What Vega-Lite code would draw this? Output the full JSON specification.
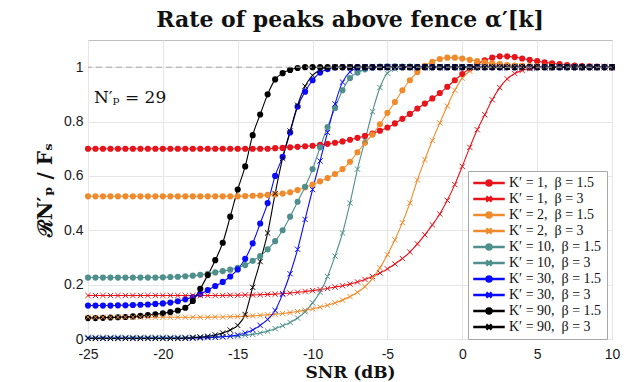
{
"$schema": "https://vega.github.io/schema/vega-lite/v6.json",
"width": 524, "height": 299,
"autosize": "none",
"padding": {"left": 88, "top": 40, "right": 18, "bottom": 43},
"background": "white",
"title": {"text": "Rate of peaks above fence α′[k]", "font": "DejaVu Serif", "fontSize": 22, "fontWeight": "bold", "color": "#111", "offset": 8},
"config": {"view": {"stroke": "#bfbfbf", "strokeWidth": 1}},
"datasets": {"d": [
{"s":"a","x":-25,"y":0.7},{"s":"a","x":-24.5,"y":0.7},{"s":"a","x":-24,"y":0.7},{"s":"a","x":-23.5,"y":0.7},{"s":"a","x":-23,"y":0.7},{"s":"a","x":-22.5,"y":0.7},{"s":"a","x":-22,"y":0.7},{"s":"a","x":-21.5,"y":0.7},{"s":"a","x":-21,"y":0.7},{"s":"a","x":-20.5,"y":0.7},{"s":"a","x":-20,"y":0.7},{"s":"a","x":-19.5,"y":0.7},{"s":"a","x":-19,"y":0.7},{"s":"a","x":-18.5,"y":0.7},{"s":"a","x":-18,"y":0.7},{"s":"a","x":-17.5,"y":0.7},{"s":"a","x":-17,"y":0.7},{"s":"a","x":-16.5,"y":0.7},{"s":"a","x":-16,"y":0.7},{"s":"a","x":-15.5,"y":0.7},{"s":"a","x":-15,"y":0.7},{"s":"a","x":-14.5,"y":0.7},{"s":"a","x":-14,"y":0.7},{"s":"a","x":-13.5,"y":0.7},{"s":"a","x":-13,"y":0.7},{"s":"a","x":-12.5,"y":0.702},{"s":"a","x":-12,"y":0.703},{"s":"a","x":-11.5,"y":0.705},{"s":"a","x":-11,"y":0.707},{"s":"a","x":-10.5,"y":0.709},{"s":"a","x":-10,"y":0.711},{"s":"a","x":-9.5,"y":0.714},{"s":"a","x":-9,"y":0.718},{"s":"a","x":-8.5,"y":0.722},{"s":"a","x":-8,"y":0.727},{"s":"a","x":-7.5,"y":0.733},{"s":"a","x":-7,"y":0.74},{"s":"a","x":-6.5,"y":0.747},{"s":"a","x":-6,"y":0.756},{"s":"a","x":-5.5,"y":0.766},{"s":"a","x":-5,"y":0.778},{"s":"a","x":-4.5,"y":0.793},{"s":"a","x":-4,"y":0.81},{"s":"a","x":-3.5,"y":0.828},{"s":"a","x":-3,"y":0.848},{"s":"a","x":-2.5,"y":0.866},{"s":"a","x":-2,"y":0.885},{"s":"a","x":-1.5,"y":0.905},{"s":"a","x":-1,"y":0.928},{"s":"a","x":-0.5,"y":0.952},{"s":"a","x":0,"y":0.975},{"s":"a","x":0.5,"y":0.995},{"s":"a","x":1,"y":1.012},{"s":"a","x":1.5,"y":1.025},{"s":"a","x":2,"y":1.035},{"s":"a","x":2.5,"y":1.04},{"s":"a","x":3,"y":1.04},{"s":"a","x":3.5,"y":1.037},{"s":"a","x":4,"y":1.032},{"s":"a","x":4.5,"y":1.027},{"s":"a","x":5,"y":1.022},{"s":"a","x":5.5,"y":1.018},{"s":"a","x":6,"y":1.014},{"s":"a","x":6.5,"y":1.011},{"s":"a","x":7,"y":1.008},{"s":"a","x":7.5,"y":1.006},{"s":"a","x":8,"y":1.004},{"s":"a","x":8.5,"y":1.003},{"s":"a","x":9,"y":1.002},{"s":"a","x":9.5,"y":1.001},{"s":"a","x":10,"y":1.0},
{"s":"b","x":-25,"y":0.16},{"s":"b","x":-24.5,"y":0.16},{"s":"b","x":-24,"y":0.16},{"s":"b","x":-23.5,"y":0.16},{"s":"b","x":-23,"y":0.16},{"s":"b","x":-22.5,"y":0.16},{"s":"b","x":-22,"y":0.16},{"s":"b","x":-21.5,"y":0.16},{"s":"b","x":-21,"y":0.16},{"s":"b","x":-20.5,"y":0.16},{"s":"b","x":-20,"y":0.16},{"s":"b","x":-19.5,"y":0.16},{"s":"b","x":-19,"y":0.16},{"s":"b","x":-18.5,"y":0.16},{"s":"b","x":-18,"y":0.16},{"s":"b","x":-17.5,"y":0.16},{"s":"b","x":-17,"y":0.16},{"s":"b","x":-16.5,"y":0.16},{"s":"b","x":-16,"y":0.16},{"s":"b","x":-15.5,"y":0.161},{"s":"b","x":-15,"y":0.161},{"s":"b","x":-14.5,"y":0.162},{"s":"b","x":-14,"y":0.162},{"s":"b","x":-13.5,"y":0.163},{"s":"b","x":-13,"y":0.164},{"s":"b","x":-12.5,"y":0.165},{"s":"b","x":-12,"y":0.167},{"s":"b","x":-11.5,"y":0.169},{"s":"b","x":-11,"y":0.172},{"s":"b","x":-10.5,"y":0.175},{"s":"b","x":-10,"y":0.178},{"s":"b","x":-9.5,"y":0.182},{"s":"b","x":-9,"y":0.186},{"s":"b","x":-8.5,"y":0.191},{"s":"b","x":-8,"y":0.196},{"s":"b","x":-7.5,"y":0.202},{"s":"b","x":-7,"y":0.21},{"s":"b","x":-6.5,"y":0.219},{"s":"b","x":-6,"y":0.23},{"s":"b","x":-5.5,"y":0.243},{"s":"b","x":-5,"y":0.258},{"s":"b","x":-4.5,"y":0.276},{"s":"b","x":-4,"y":0.296},{"s":"b","x":-3.5,"y":0.32},{"s":"b","x":-3,"y":0.35},{"s":"b","x":-2.5,"y":0.383},{"s":"b","x":-2,"y":0.42},{"s":"b","x":-1.5,"y":0.46},{"s":"b","x":-1,"y":0.51},{"s":"b","x":-0.5,"y":0.568},{"s":"b","x":0,"y":0.635},{"s":"b","x":0.5,"y":0.705},{"s":"b","x":1,"y":0.77},{"s":"b","x":1.5,"y":0.825},{"s":"b","x":2,"y":0.88},{"s":"b","x":2.5,"y":0.925},{"s":"b","x":3,"y":0.957},{"s":"b","x":3.5,"y":0.977},{"s":"b","x":4,"y":0.988},{"s":"b","x":4.5,"y":0.995},{"s":"b","x":5,"y":0.999},{"s":"b","x":5.5,"y":1.0},{"s":"b","x":6,"y":1.0},{"s":"b","x":6.5,"y":1.0},{"s":"b","x":7,"y":1.0},{"s":"b","x":7.5,"y":1.0},{"s":"b","x":8,"y":1.0},{"s":"b","x":8.5,"y":1.0},{"s":"b","x":9,"y":1.0},{"s":"b","x":9.5,"y":1.0},{"s":"b","x":10,"y":1.0},
{"s":"c","x":-25,"y":0.525},{"s":"c","x":-24.5,"y":0.525},{"s":"c","x":-24,"y":0.525},{"s":"c","x":-23.5,"y":0.525},{"s":"c","x":-23,"y":0.525},{"s":"c","x":-22.5,"y":0.525},{"s":"c","x":-22,"y":0.525},{"s":"c","x":-21.5,"y":0.525},{"s":"c","x":-21,"y":0.525},{"s":"c","x":-20.5,"y":0.525},{"s":"c","x":-20,"y":0.525},{"s":"c","x":-19.5,"y":0.525},{"s":"c","x":-19,"y":0.525},{"s":"c","x":-18.5,"y":0.525},{"s":"c","x":-18,"y":0.525},{"s":"c","x":-17.5,"y":0.525},{"s":"c","x":-17,"y":0.525},{"s":"c","x":-16.5,"y":0.525},{"s":"c","x":-16,"y":0.525},{"s":"c","x":-15.5,"y":0.525},{"s":"c","x":-15,"y":0.525},{"s":"c","x":-14.5,"y":0.526},{"s":"c","x":-14,"y":0.527},{"s":"c","x":-13.5,"y":0.528},{"s":"c","x":-13,"y":0.53},{"s":"c","x":-12.5,"y":0.532},{"s":"c","x":-12,"y":0.535},{"s":"c","x":-11.5,"y":0.54},{"s":"c","x":-11,"y":0.548},{"s":"c","x":-10.5,"y":0.558},{"s":"c","x":-10,"y":0.568},{"s":"c","x":-9.5,"y":0.58},{"s":"c","x":-9,"y":0.592},{"s":"c","x":-8.5,"y":0.607},{"s":"c","x":-8,"y":0.625},{"s":"c","x":-7.5,"y":0.652},{"s":"c","x":-7,"y":0.687},{"s":"c","x":-6.5,"y":0.722},{"s":"c","x":-6,"y":0.752},{"s":"c","x":-5.5,"y":0.79},{"s":"c","x":-5,"y":0.832},{"s":"c","x":-4.5,"y":0.872},{"s":"c","x":-4,"y":0.915},{"s":"c","x":-3.5,"y":0.952},{"s":"c","x":-3,"y":0.982},{"s":"c","x":-2.5,"y":1.005},{"s":"c","x":-2,"y":1.02},{"s":"c","x":-1.5,"y":1.03},{"s":"c","x":-1,"y":1.035},{"s":"c","x":-0.5,"y":1.035},{"s":"c","x":0,"y":1.032},{"s":"c","x":0.5,"y":1.027},{"s":"c","x":1,"y":1.022},{"s":"c","x":1.5,"y":1.018},{"s":"c","x":2,"y":1.014},{"s":"c","x":2.5,"y":1.011},{"s":"c","x":3,"y":1.008},{"s":"c","x":3.5,"y":1.006},{"s":"c","x":4,"y":1.005},{"s":"c","x":4.5,"y":1.004},{"s":"c","x":5,"y":1.003},{"s":"c","x":5.5,"y":1.002},{"s":"c","x":6,"y":1.002},{"s":"c","x":6.5,"y":1.001},{"s":"c","x":7,"y":1.001},{"s":"c","x":7.5,"y":1.0},{"s":"c","x":8,"y":1.0},{"s":"c","x":8.5,"y":1.0},{"s":"c","x":9,"y":1.0},{"s":"c","x":9.5,"y":1.0},{"s":"c","x":10,"y":1.0},
{"s":"d","x":-25,"y":0.08},{"s":"d","x":-24.5,"y":0.08},{"s":"d","x":-24,"y":0.08},{"s":"d","x":-23.5,"y":0.08},{"s":"d","x":-23,"y":0.08},{"s":"d","x":-22.5,"y":0.08},{"s":"d","x":-22,"y":0.08},{"s":"d","x":-21.5,"y":0.08},{"s":"d","x":-21,"y":0.08},{"s":"d","x":-20.5,"y":0.08},{"s":"d","x":-20,"y":0.08},{"s":"d","x":-19.5,"y":0.08},{"s":"d","x":-19,"y":0.08},{"s":"d","x":-18.5,"y":0.08},{"s":"d","x":-18,"y":0.08},{"s":"d","x":-17.5,"y":0.08},{"s":"d","x":-17,"y":0.08},{"s":"d","x":-16.5,"y":0.081},{"s":"d","x":-16,"y":0.081},{"s":"d","x":-15.5,"y":0.082},{"s":"d","x":-15,"y":0.083},{"s":"d","x":-14.5,"y":0.084},{"s":"d","x":-14,"y":0.085},{"s":"d","x":-13.5,"y":0.087},{"s":"d","x":-13,"y":0.089},{"s":"d","x":-12.5,"y":0.091},{"s":"d","x":-12,"y":0.094},{"s":"d","x":-11.5,"y":0.097},{"s":"d","x":-11,"y":0.101},{"s":"d","x":-10.5,"y":0.106},{"s":"d","x":-10,"y":0.111},{"s":"d","x":-9.5,"y":0.117},{"s":"d","x":-9,"y":0.124},{"s":"d","x":-8.5,"y":0.133},{"s":"d","x":-8,"y":0.143},{"s":"d","x":-7.5,"y":0.156},{"s":"d","x":-7,"y":0.172},{"s":"d","x":-6.5,"y":0.193},{"s":"d","x":-6,"y":0.222},{"s":"d","x":-5.5,"y":0.262},{"s":"d","x":-5,"y":0.31},{"s":"d","x":-4.5,"y":0.365},{"s":"d","x":-4,"y":0.428},{"s":"d","x":-3.5,"y":0.5},{"s":"d","x":-3,"y":0.585},{"s":"d","x":-2.5,"y":0.66},{"s":"d","x":-2,"y":0.73},{"s":"d","x":-1.5,"y":0.795},{"s":"d","x":-1,"y":0.857},{"s":"d","x":-0.5,"y":0.915},{"s":"d","x":0,"y":0.96},{"s":"d","x":0.5,"y":0.985},{"s":"d","x":1,"y":0.998},{"s":"d","x":1.5,"y":1.004},{"s":"d","x":2,"y":1.006},{"s":"d","x":2.5,"y":1.006},{"s":"d","x":3,"y":1.005},{"s":"d","x":3.5,"y":1.004},{"s":"d","x":4,"y":1.003},{"s":"d","x":4.5,"y":1.002},{"s":"d","x":5,"y":1.002},{"s":"d","x":5.5,"y":1.001},{"s":"d","x":6,"y":1.0},{"s":"d","x":6.5,"y":1.0},{"s":"d","x":7,"y":1.0},{"s":"d","x":7.5,"y":1.0},{"s":"d","x":8,"y":1.0},{"s":"d","x":8.5,"y":1.0},{"s":"d","x":9,"y":1.0},{"s":"d","x":9.5,"y":1.0},{"s":"d","x":10,"y":1.0},
{"s":"e","x":-25,"y":0.226},{"s":"e","x":-24.5,"y":0.226},{"s":"e","x":-24,"y":0.226},{"s":"e","x":-23.5,"y":0.226},{"s":"e","x":-23,"y":0.226},{"s":"e","x":-22.5,"y":0.226},{"s":"e","x":-22,"y":0.226},{"s":"e","x":-21.5,"y":0.226},{"s":"e","x":-21,"y":0.226},{"s":"e","x":-20.5,"y":0.226},{"s":"e","x":-20,"y":0.227},{"s":"e","x":-19.5,"y":0.228},{"s":"e","x":-19,"y":0.229},{"s":"e","x":-18.5,"y":0.231},{"s":"e","x":-18,"y":0.233},{"s":"e","x":-17.5,"y":0.236},{"s":"e","x":-17,"y":0.24},{"s":"e","x":-16.5,"y":0.245},{"s":"e","x":-16,"y":0.25},{"s":"e","x":-15.5,"y":0.255},{"s":"e","x":-15,"y":0.262},{"s":"e","x":-14.5,"y":0.272},{"s":"e","x":-14,"y":0.288},{"s":"e","x":-13.5,"y":0.305},{"s":"e","x":-13,"y":0.33},{"s":"e","x":-12.5,"y":0.36},{"s":"e","x":-12,"y":0.4},{"s":"e","x":-11.5,"y":0.45},{"s":"e","x":-11,"y":0.505},{"s":"e","x":-10.5,"y":0.56},{"s":"e","x":-10,"y":0.625},{"s":"e","x":-9.5,"y":0.705},{"s":"e","x":-9,"y":0.78},{"s":"e","x":-8.5,"y":0.85},{"s":"e","x":-8,"y":0.915},{"s":"e","x":-7.5,"y":0.96},{"s":"e","x":-7,"y":0.98},{"s":"e","x":-6.5,"y":0.992},{"s":"e","x":-6,"y":0.998},{"s":"e","x":-5.5,"y":1.002},{"s":"e","x":-5,"y":1.003},{"s":"e","x":-4.5,"y":1.003},{"s":"e","x":-4,"y":1.002},{"s":"e","x":-3.5,"y":1.002},{"s":"e","x":-3,"y":1.001},{"s":"e","x":-2.5,"y":1.001},{"s":"e","x":-2,"y":1.0},{"s":"e","x":-1.5,"y":1.0},{"s":"e","x":-1,"y":1.0},{"s":"e","x":-0.5,"y":1.0},{"s":"e","x":0,"y":1.0},{"s":"e","x":0.5,"y":1.0},{"s":"e","x":1,"y":1.0},{"s":"e","x":1.5,"y":1.0},{"s":"e","x":2,"y":1.0},{"s":"e","x":2.5,"y":1.0},{"s":"e","x":3,"y":1.0},{"s":"e","x":3.5,"y":1.0},{"s":"e","x":4,"y":1.0},{"s":"e","x":4.5,"y":1.0},{"s":"e","x":5,"y":1.0},{"s":"e","x":5.5,"y":1.0},{"s":"e","x":6,"y":1.0},{"s":"e","x":6.5,"y":1.0},{"s":"e","x":7,"y":1.0},{"s":"e","x":7.5,"y":1.0},{"s":"e","x":8,"y":1.0},{"s":"e","x":8.5,"y":1.0},{"s":"e","x":9,"y":1.0},{"s":"e","x":9.5,"y":1.0},{"s":"e","x":10,"y":1.0},
{"s":"f","x":-25,"y":0.006},{"s":"f","x":-24.5,"y":0.006},{"s":"f","x":-24,"y":0.006},{"s":"f","x":-23.5,"y":0.006},{"s":"f","x":-23,"y":0.006},{"s":"f","x":-22.5,"y":0.006},{"s":"f","x":-22,"y":0.006},{"s":"f","x":-21.5,"y":0.006},{"s":"f","x":-21,"y":0.006},{"s":"f","x":-20.5,"y":0.006},{"s":"f","x":-20,"y":0.006},{"s":"f","x":-19.5,"y":0.006},{"s":"f","x":-19,"y":0.006},{"s":"f","x":-18.5,"y":0.006},{"s":"f","x":-18,"y":0.007},{"s":"f","x":-17.5,"y":0.007},{"s":"f","x":-17,"y":0.008},{"s":"f","x":-16.5,"y":0.008},{"s":"f","x":-16,"y":0.009},{"s":"f","x":-15.5,"y":0.01},{"s":"f","x":-15,"y":0.011},{"s":"f","x":-14.5,"y":0.014},{"s":"f","x":-14,"y":0.017},{"s":"f","x":-13.5,"y":0.022},{"s":"f","x":-13,"y":0.029},{"s":"f","x":-12.5,"y":0.038},{"s":"f","x":-12,"y":0.049},{"s":"f","x":-11.5,"y":0.061},{"s":"f","x":-11,"y":0.077},{"s":"f","x":-10.5,"y":0.1},{"s":"f","x":-10,"y":0.133},{"s":"f","x":-9.5,"y":0.172},{"s":"f","x":-9,"y":0.23},{"s":"f","x":-8.5,"y":0.305},{"s":"f","x":-8,"y":0.39},{"s":"f","x":-7.5,"y":0.5},{"s":"f","x":-7,"y":0.625},{"s":"f","x":-6.5,"y":0.73},{"s":"f","x":-6,"y":0.836},{"s":"f","x":-5.5,"y":0.925},{"s":"f","x":-5,"y":0.978},{"s":"f","x":-4.5,"y":0.993},{"s":"f","x":-4,"y":0.999},{"s":"f","x":-3.5,"y":1.0},{"s":"f","x":-3,"y":1.0},{"s":"f","x":-2.5,"y":1.0},{"s":"f","x":-2,"y":1.0},{"s":"f","x":-1.5,"y":1.0},{"s":"f","x":-1,"y":1.0},{"s":"f","x":-0.5,"y":1.0},{"s":"f","x":0,"y":1.0},{"s":"f","x":0.5,"y":1.0},{"s":"f","x":1,"y":1.0},{"s":"f","x":1.5,"y":1.0},{"s":"f","x":2,"y":1.0},{"s":"f","x":2.5,"y":1.0},{"s":"f","x":3,"y":1.0},{"s":"f","x":3.5,"y":1.0},{"s":"f","x":4,"y":1.0},{"s":"f","x":4.5,"y":1.0},{"s":"f","x":5,"y":1.0},{"s":"f","x":5.5,"y":1.0},{"s":"f","x":6,"y":1.0},{"s":"f","x":6.5,"y":1.0},{"s":"f","x":7,"y":1.0},{"s":"f","x":7.5,"y":1.0},{"s":"f","x":8,"y":1.0},{"s":"f","x":8.5,"y":1.0},{"s":"f","x":9,"y":1.0},{"s":"f","x":9.5,"y":1.0},{"s":"f","x":10,"y":1.0},
{"s":"g","x":-25,"y":0.123},{"s":"g","x":-24.5,"y":0.123},{"s":"g","x":-24,"y":0.123},{"s":"g","x":-23.5,"y":0.123},{"s":"g","x":-23,"y":0.124},{"s":"g","x":-22.5,"y":0.124},{"s":"g","x":-22,"y":0.125},{"s":"g","x":-21.5,"y":0.126},{"s":"g","x":-21,"y":0.127},{"s":"g","x":-20.5,"y":0.129},{"s":"g","x":-20,"y":0.131},{"s":"g","x":-19.5,"y":0.134},{"s":"g","x":-19,"y":0.139},{"s":"g","x":-18.5,"y":0.146},{"s":"g","x":-18,"y":0.154},{"s":"g","x":-17.5,"y":0.165},{"s":"g","x":-17,"y":0.18},{"s":"g","x":-16.5,"y":0.195},{"s":"g","x":-16,"y":0.21},{"s":"g","x":-15.5,"y":0.23},{"s":"g","x":-15,"y":0.256},{"s":"g","x":-14.5,"y":0.295},{"s":"g","x":-14,"y":0.352},{"s":"g","x":-13.5,"y":0.425},{"s":"g","x":-13,"y":0.5},{"s":"g","x":-12.5,"y":0.6},{"s":"g","x":-12,"y":0.67},{"s":"g","x":-11.5,"y":0.76},{"s":"g","x":-11,"y":0.855},{"s":"g","x":-10.5,"y":0.91},{"s":"g","x":-10,"y":0.952},{"s":"g","x":-9.5,"y":0.98},{"s":"g","x":-9,"y":0.993},{"s":"g","x":-8.5,"y":0.999},{"s":"g","x":-8,"y":1.0},{"s":"g","x":-7.5,"y":1.0},{"s":"g","x":-7,"y":1.0},{"s":"g","x":-6.5,"y":1.0},{"s":"g","x":-6,"y":1.0},{"s":"g","x":-5.5,"y":1.0},{"s":"g","x":-5,"y":1.0},{"s":"g","x":-4.5,"y":1.0},{"s":"g","x":-4,"y":1.0},{"s":"g","x":-3.5,"y":1.0},{"s":"g","x":-3,"y":1.0},{"s":"g","x":-2.5,"y":1.0},{"s":"g","x":-2,"y":1.0},{"s":"g","x":-1.5,"y":1.0},{"s":"g","x":-1,"y":1.0},{"s":"g","x":-0.5,"y":1.0},{"s":"g","x":0,"y":1.0},{"s":"g","x":0.5,"y":1.0},{"s":"g","x":1,"y":1.0},{"s":"g","x":1.5,"y":1.0},{"s":"g","x":2,"y":1.0},{"s":"g","x":2.5,"y":1.0},{"s":"g","x":3,"y":1.0},{"s":"g","x":3.5,"y":1.0},{"s":"g","x":4,"y":1.0},{"s":"g","x":4.5,"y":1.0},{"s":"g","x":5,"y":1.0},{"s":"g","x":5.5,"y":1.0},{"s":"g","x":6,"y":1.0},{"s":"g","x":6.5,"y":1.0},{"s":"g","x":7,"y":1.0},{"s":"g","x":7.5,"y":1.0},{"s":"g","x":8,"y":1.0},{"s":"g","x":8.5,"y":1.0},{"s":"g","x":9,"y":1.0},{"s":"g","x":9.5,"y":1.0},{"s":"g","x":10,"y":1.0},
{"s":"h","x":-25,"y":0.003},{"s":"h","x":-24.5,"y":0.003},{"s":"h","x":-24,"y":0.003},{"s":"h","x":-23.5,"y":0.003},{"s":"h","x":-23,"y":0.003},{"s":"h","x":-22.5,"y":0.003},{"s":"h","x":-22,"y":0.003},{"s":"h","x":-21.5,"y":0.003},{"s":"h","x":-21,"y":0.003},{"s":"h","x":-20.5,"y":0.003},{"s":"h","x":-20,"y":0.003},{"s":"h","x":-19.5,"y":0.003},{"s":"h","x":-19,"y":0.003},{"s":"h","x":-18.5,"y":0.003},{"s":"h","x":-18,"y":0.003},{"s":"h","x":-17.5,"y":0.004},{"s":"h","x":-17,"y":0.005},{"s":"h","x":-16.5,"y":0.006},{"s":"h","x":-16,"y":0.008},{"s":"h","x":-15.5,"y":0.011},{"s":"h","x":-15,"y":0.015},{"s":"h","x":-14.5,"y":0.022},{"s":"h","x":-14,"y":0.033},{"s":"h","x":-13.5,"y":0.05},{"s":"h","x":-13,"y":0.072},{"s":"h","x":-12.5,"y":0.105},{"s":"h","x":-12,"y":0.165},{"s":"h","x":-11.5,"y":0.24},{"s":"h","x":-11,"y":0.33},{"s":"h","x":-10.5,"y":0.44},{"s":"h","x":-10,"y":0.55},{"s":"h","x":-9.5,"y":0.655},{"s":"h","x":-9,"y":0.76},{"s":"h","x":-8.5,"y":0.865},{"s":"h","x":-8,"y":0.945},{"s":"h","x":-7.5,"y":0.983},{"s":"h","x":-7,"y":0.997},{"s":"h","x":-6.5,"y":1.0},{"s":"h","x":-6,"y":1.0},{"s":"h","x":-5.5,"y":1.0},{"s":"h","x":-5,"y":1.0},{"s":"h","x":-4.5,"y":1.0},{"s":"h","x":-4,"y":1.0},{"s":"h","x":-3.5,"y":1.0},{"s":"h","x":-3,"y":1.0},{"s":"h","x":-2.5,"y":1.0},{"s":"h","x":-2,"y":1.0},{"s":"h","x":-1.5,"y":1.0},{"s":"h","x":-1,"y":1.0},{"s":"h","x":-0.5,"y":1.0},{"s":"h","x":0,"y":1.0},{"s":"h","x":0.5,"y":1.0},{"s":"h","x":1,"y":1.0},{"s":"h","x":1.5,"y":1.0},{"s":"h","x":2,"y":1.0},{"s":"h","x":2.5,"y":1.0},{"s":"h","x":3,"y":1.0},{"s":"h","x":3.5,"y":1.0},{"s":"h","x":4,"y":1.0},{"s":"h","x":4.5,"y":1.0},{"s":"h","x":5,"y":1.0},{"s":"h","x":5.5,"y":1.0},{"s":"h","x":6,"y":1.0},{"s":"h","x":6.5,"y":1.0},{"s":"h","x":7,"y":1.0},{"s":"h","x":7.5,"y":1.0},{"s":"h","x":8,"y":1.0},{"s":"h","x":8.5,"y":1.0},{"s":"h","x":9,"y":1.0},{"s":"h","x":9.5,"y":1.0},{"s":"h","x":10,"y":1.0},
{"s":"i","x":-25,"y":0.077},{"s":"i","x":-24.5,"y":0.077},{"s":"i","x":-24,"y":0.078},{"s":"i","x":-23.5,"y":0.079},{"s":"i","x":-23,"y":0.08},{"s":"i","x":-22.5,"y":0.081},{"s":"i","x":-22,"y":0.083},{"s":"i","x":-21.5,"y":0.085},{"s":"i","x":-21,"y":0.088},{"s":"i","x":-20.5,"y":0.091},{"s":"i","x":-20,"y":0.094},{"s":"i","x":-19.5,"y":0.099},{"s":"i","x":-19,"y":0.105},{"s":"i","x":-18.5,"y":0.115},{"s":"i","x":-18,"y":0.14},{"s":"i","x":-17.5,"y":0.185},{"s":"i","x":-17,"y":0.235},{"s":"i","x":-16.5,"y":0.29},{"s":"i","x":-16,"y":0.354},{"s":"i","x":-15.5,"y":0.45},{"s":"i","x":-15,"y":0.55},{"s":"i","x":-14.5,"y":0.635},{"s":"i","x":-14,"y":0.75},{"s":"i","x":-13.5,"y":0.826},{"s":"i","x":-13,"y":0.9},{"s":"i","x":-12.5,"y":0.955},{"s":"i","x":-12,"y":0.978},{"s":"i","x":-11.5,"y":0.99},{"s":"i","x":-11,"y":0.997},{"s":"i","x":-10.5,"y":1.0},{"s":"i","x":-10,"y":1.0},{"s":"i","x":-9.5,"y":1.0},{"s":"i","x":-9,"y":1.0},{"s":"i","x":-8.5,"y":1.0},{"s":"i","x":-8,"y":1.0},{"s":"i","x":-7.5,"y":1.0},{"s":"i","x":-7,"y":1.0},{"s":"i","x":-6.5,"y":1.0},{"s":"i","x":-6,"y":1.0},{"s":"i","x":-5.5,"y":1.0},{"s":"i","x":-5,"y":1.0},{"s":"i","x":-4.5,"y":1.0},{"s":"i","x":-4,"y":1.0},{"s":"i","x":-3.5,"y":1.0},{"s":"i","x":-3,"y":1.0},{"s":"i","x":-2.5,"y":1.0},{"s":"i","x":-2,"y":1.0},{"s":"i","x":-1.5,"y":1.0},{"s":"i","x":-1,"y":1.0},{"s":"i","x":-0.5,"y":1.0},{"s":"i","x":0,"y":1.0},{"s":"i","x":0.5,"y":1.0},{"s":"i","x":1,"y":1.0},{"s":"i","x":1.5,"y":1.0},{"s":"i","x":2,"y":1.0},{"s":"i","x":2.5,"y":1.0},{"s":"i","x":3,"y":1.0},{"s":"i","x":3.5,"y":1.0},{"s":"i","x":4,"y":1.0},{"s":"i","x":4.5,"y":1.0},{"s":"i","x":5,"y":1.0},{"s":"i","x":5.5,"y":1.0},{"s":"i","x":6,"y":1.0},{"s":"i","x":6.5,"y":1.0},{"s":"i","x":7,"y":1.0},{"s":"i","x":7.5,"y":1.0},{"s":"i","x":8,"y":1.0},{"s":"i","x":8.5,"y":1.0},{"s":"i","x":9,"y":1.0},{"s":"i","x":9.5,"y":1.0},{"s":"i","x":10,"y":1.0},
{"s":"j","x":-25,"y":0.002},{"s":"j","x":-24.5,"y":0.002},{"s":"j","x":-24,"y":0.002},{"s":"j","x":-23.5,"y":0.002},{"s":"j","x":-23,"y":0.002},{"s":"j","x":-22.5,"y":0.002},{"s":"j","x":-22,"y":0.002},{"s":"j","x":-21.5,"y":0.002},{"s":"j","x":-21,"y":0.002},{"s":"j","x":-20.5,"y":0.002},{"s":"j","x":-20,"y":0.002},{"s":"j","x":-19.5,"y":0.002},{"s":"j","x":-19,"y":0.002},{"s":"j","x":-18.5,"y":0.003},{"s":"j","x":-18,"y":0.005},{"s":"j","x":-17.5,"y":0.007},{"s":"j","x":-17,"y":0.01},{"s":"j","x":-16.5,"y":0.015},{"s":"j","x":-16,"y":0.022},{"s":"j","x":-15.5,"y":0.033},{"s":"j","x":-15,"y":0.05},{"s":"j","x":-14.5,"y":0.09},{"s":"j","x":-14,"y":0.19},{"s":"j","x":-13.5,"y":0.285},{"s":"j","x":-13,"y":0.39},{"s":"j","x":-12.5,"y":0.535},{"s":"j","x":-12,"y":0.665},{"s":"j","x":-11.5,"y":0.765},{"s":"j","x":-11,"y":0.86},{"s":"j","x":-10.5,"y":0.93},{"s":"j","x":-10,"y":0.97},{"s":"j","x":-9.5,"y":0.99},{"s":"j","x":-9,"y":0.998},{"s":"j","x":-8.5,"y":1.0},{"s":"j","x":-8,"y":1.0},{"s":"j","x":-7.5,"y":1.0},{"s":"j","x":-7,"y":1.0},{"s":"j","x":-6.5,"y":1.0},{"s":"j","x":-6,"y":1.0},{"s":"j","x":-5.5,"y":1.0},{"s":"j","x":-5,"y":1.0},{"s":"j","x":-4.5,"y":1.0},{"s":"j","x":-4,"y":1.0},{"s":"j","x":-3.5,"y":1.0},{"s":"j","x":-3,"y":1.0},{"s":"j","x":-2.5,"y":1.0},{"s":"j","x":-2,"y":1.0},{"s":"j","x":-1.5,"y":1.0},{"s":"j","x":-1,"y":1.0},{"s":"j","x":-0.5,"y":1.0},{"s":"j","x":0,"y":1.0},{"s":"j","x":0.5,"y":1.0},{"s":"j","x":1,"y":1.0},{"s":"j","x":1.5,"y":1.0},{"s":"j","x":2,"y":1.0},{"s":"j","x":2.5,"y":1.0},{"s":"j","x":3,"y":1.0},{"s":"j","x":3.5,"y":1.0},{"s":"j","x":4,"y":1.0},{"s":"j","x":4.5,"y":1.0},{"s":"j","x":5,"y":1.0},{"s":"j","x":5.5,"y":1.0},{"s":"j","x":6,"y":1.0},{"s":"j","x":6.5,"y":1.0},{"s":"j","x":7,"y":1.0},{"s":"j","x":7.5,"y":1.0},{"s":"j","x":8,"y":1.0},{"s":"j","x":8.5,"y":1.0},{"s":"j","x":9,"y":1.0},{"s":"j","x":9.5,"y":1.0},{"s":"j","x":10,"y":1.0}
]},
"layer": [
  {"data": {"name": "d"},
   "encoding": {
    "x": {"field": "x", "type": "quantitative", "scale": {"domain": [-25, 10], "nice": false},
        "axis": {"values": [-25,-20,-15,-10,-5,0,5,10], "labelExpr": "'' + datum.value", "labelFlush": false, "grid": true, "gridColor": "#e6e6e6", "domain": false, "ticks": false, "labelFont": "Liberation Sans", "labelFontSize": 14, "labelColor": "#1a1a1a", "labelPadding": 8, "title": "SNR (dB)", "titleFont": "DejaVu Serif", "titleFontSize": 17, "titleFontWeight": "bold", "titleColor": "#111", "titlePadding": 3}},
    "y": {"field": "y", "type": "quantitative", "scale": {"domain": [0, 1.1], "nice": false},
        "axis": {"values": [0,0.2,0.4,0.6,0.8,1], "format": "~g", "grid": true, "gridColor": "#e6e6e6", "domain": false, "ticks": false, "labelFont": "Liberation Sans", "labelFontSize": 14, "labelColor": "#1a1a1a", "labelPadding": 5, "title": "ℛN′ₚ / Fₛ", "titleFont": "DejaVu Serif", "titleFontSize": 20, "titleFontWeight": "bold", "titleColor": "#111", "titlePadding": 8}},
    "color": {"field": "s", "type": "nominal",
     "scale": {"domain": ["a","b","c","d","e","f","g","h","i","j"], "range": ["#e8141b","#e8141b","#ef8b2c","#ef8b2c","#4f8f8c","#4f8f8c","#0a0aff","#0a0aff","#000000","#000000"]},
     "legend": {"orient": "none", "legendX": 380, "legendY": 131, "title": null, "fillColor": "white", "strokeColor": "#a8a8a8", "padding": 5,
       "labelFont": "Liberation Serif", "labelFontSize": 14, "labelColor": "#111", "rowPadding": 2, "symbolSize": 36, "symbolOffset": 9, "labelOffset": 13,
       "labelExpr": "['K′ = 1, \u00a0β = 1.5','K′ = 1, \u00a0β = 3','K′ = 2, \u00a0β = 1.5','K′ = 2, \u00a0β = 3','K′ = 10, \u00a0β = 1.5','K′ = 10, \u00a0β = 3','K′ = 30, \u00a0β = 1.5','K′ = 30, \u00a0β = 3','K′ = 90, \u00a0β = 1.5','K′ = 90, \u00a0β = 3'][indexof(['a','b','c','d','e','f','g','h','i','j'], datum.value)]"}},
    "shape": {"field": "s", "type": "nominal",
     "scale": {"domain": ["a","b","c","d","e","f","g","h","i","j"], "range": [
       "M-5,-0.17H5V0.17H-5Z M1,0A1,1 0 1,1 -1,0A1,1 0 1,1 1,0Z",
       "M-5,-0.17H5V0.17H-5Z M-0.8,-0.6L-0.6,-0.8L0,-0.2L0.6,-0.8L0.8,-0.6L0.2,0L0.8,0.6L0.6,0.8L0,0.2L-0.6,0.8L-0.8,0.6L-0.2,0Z",
       "M-5,-0.17H5V0.17H-5Z M1,0A1,1 0 1,1 -1,0A1,1 0 1,1 1,0Z",
       "M-5,-0.17H5V0.17H-5Z M-0.8,-0.6L-0.6,-0.8L0,-0.2L0.6,-0.8L0.8,-0.6L0.2,0L0.8,0.6L0.6,0.8L0,0.2L-0.6,0.8L-0.8,0.6L-0.2,0Z",
       "M-5,-0.17H5V0.17H-5Z M1,0A1,1 0 1,1 -1,0A1,1 0 1,1 1,0Z",
       "M-5,-0.17H5V0.17H-5Z M-0.8,-0.6L-0.6,-0.8L0,-0.2L0.6,-0.8L0.8,-0.6L0.2,0L0.8,0.6L0.6,0.8L0,0.2L-0.6,0.8L-0.8,0.6L-0.2,0Z",
       "M-5,-0.17H5V0.17H-5Z M1,0A1,1 0 1,1 -1,0A1,1 0 1,1 1,0Z",
       "M-5,-0.17H5V0.17H-5Z M-0.8,-0.6L-0.6,-0.8L0,-0.2L0.6,-0.8L0.8,-0.6L0.2,0L0.8,0.6L0.6,0.8L0,0.2L-0.6,0.8L-0.8,0.6L-0.2,0Z",
       "M-5,-0.17H5V0.17H-5Z M1,0A1,1 0 1,1 -1,0A1,1 0 1,1 1,0Z",
       "M-5,-0.17H5V0.17H-5Z M-0.8,-0.6L-0.6,-0.8L0,-0.2L0.6,-0.8L0.8,-0.6L0.2,0L0.8,0.6L0.6,0.8L0,0.2L-0.6,0.8L-0.8,0.6L-0.2,0Z"]},
     "legend": {"orient": "none", "legendX": 380, "legendY": 131, "title": null, "fillColor": "white", "strokeColor": "#a8a8a8", "padding": 5,
       "labelFont": "Liberation Serif", "labelFontSize": 14, "labelColor": "#111", "rowPadding": 2, "symbolSize": 36, "symbolOffset": 9, "labelOffset": 13,
       "labelExpr": "['K′ = 1, \u00a0β = 1.5','K′ = 1, \u00a0β = 3','K′ = 2, \u00a0β = 1.5','K′ = 2, \u00a0β = 3','K′ = 10, \u00a0β = 1.5','K′ = 10, \u00a0β = 3','K′ = 30, \u00a0β = 1.5','K′ = 30, \u00a0β = 3','K′ = 90, \u00a0β = 1.5','K′ = 90, \u00a0β = 3'][indexof(['a','b','c','d','e','f','g','h','i','j'], datum.value)]"}}
   },
   "layer": [
     {"mark": {"type": "line", "interpolate": "monotone", "strokeWidth": 1.1}, "encoding": {"shape": null}},
     {"transform": [{"filter": {"field": "s", "oneOf": ["a","c","e","g","i"]}}],
      "mark": {"type": "point", "filled": true, "size": 38, "opacity": 1},
      "encoding": {"shape": {"value": "circle"}}},
     {"transform": [{"filter": {"field": "s", "oneOf": ["b","d","f","h","j"]}}],
      "mark": {"type": "point", "filled": false, "size": 28, "strokeWidth": 1, "opacity": 1},
      "encoding": {"shape": {"value": "M-1,-1L1,1M-1,1L1,-1"}}},
     {"transform": [{"filter": "false"}],
      "mark": {"type": "point", "filled": true, "size": 36, "opacity": 1}}
   ]},
  {"data": {"values": [{"k": 1}]}, "mark": {"type": "rule", "strokeDash": [6, 4], "color": "#a6a6a6", "strokeWidth": 1}, "encoding": {"y": {"datum": 1, "type": "quantitative"}}},
  {"data": {"values": [{"k": 2}]}, "mark": {"type": "text", "font": "DejaVu Serif", "fontSize": 17, "align": "left", "baseline": "middle", "color": "#111"},
   "encoding": {"x": {"datum": -24.6, "type": "quantitative"}, "y": {"datum": 0.885, "type": "quantitative"}, "text": {"value": "N′ₚ = 29"}}}
]
}
